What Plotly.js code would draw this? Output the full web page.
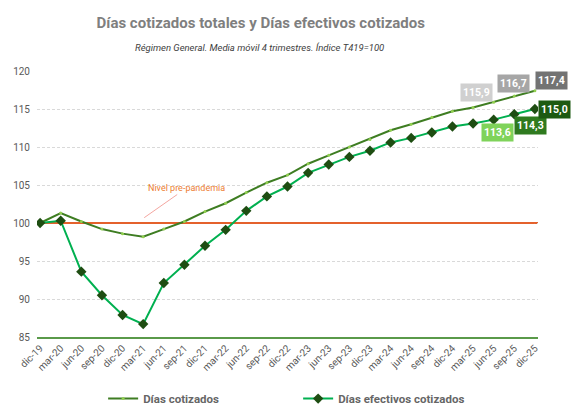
<!DOCTYPE html>
<html>
<head>
<meta charset="utf-8">
<script src="https://cdn.plot.ly/plotly-3.0.1.min.js"></script>
<style>html,body{margin:0;padding:0;background:#fff;}#chart{width:586px;height:412px;}</style>
</head>
<body>
<div id="chart"></div>
<script>
const periods = ["dic-19","mar-20","jun-20","sep-20","dic-20","mar-21","jun-21","sep-21","dic-21","mar-22","jun-22","sep-22","dic-22","mar-23","jun-23","sep-23","dic-23","mar-24","jun-24","sep-24","dic-24","mar-25","jun-25","sep-25","dic-25"];
const diasCotizados = [100.0,101.3,100.2,99.2,98.6,98.2,99.2,100.2,101.5,102.6,104.0,105.3,106.3,107.8,108.9,110.0,111.0,112.2,113.0,113.9,114.7,115.2,115.9,116.7,117.4];
const diasEfectivos = [100.0,100.3,93.6,90.5,87.9,86.7,92.1,94.5,97.0,99.1,101.6,103.5,104.8,106.6,107.7,108.7,109.5,110.6,111.2,111.9,112.7,113.1,113.6,114.3,115.0];
const preLevel = 100;
const yTicks = [85,90,95,100,105,110,115,120];

const fam = "Roboto, 'Liberation Sans', sans-serif";
const fmt = v => v.toFixed(1).replace('.', ',');
const n = periods.length;
const orange = "#e4612c";

const traces = [
  {
    x: periods, y: periods.map(() => preLevel), name: "Nivel pre-pandemia", type: "scatter", mode: "lines",
    line: {color: orange, width: 2}, showlegend: false, hoverinfo: "skip"
  },
  {
    x: periods, y: diasCotizados, name: "Días cotizados", type: "scatter", mode: "lines+markers",
    line: {color: "#3e7d22", width: 2},
    marker: {color: "#92d050", size: 3, symbol: "circle"}
  },
  {
    x: periods, y: diasEfectivos, name: "Días efectivos cotizados", type: "scatter", mode: "lines+markers",
    line: {color: "#00b050", width: 2},
    marker: {color: "#1e4d12", size: 8, symbol: "diamond"}
  }
];

function lbl(idx, arr, bg, xs, ys) {
  return {
    x: periods[idx], y: arr[idx], xref: "x", yref: "y",
    text: "<b>" + fmt(arr[idx]) + "</b>", showarrow: false,
    xshift: xs, yshift: ys,
    font: {family: fam, size: 10.5, color: "#ffffff"},
    bgcolor: bg, borderpad: 2
  };
}

const annotations = [
  lbl(n-3, diasCotizados, "#d0d0d0", -17, 10),
  lbl(n-2, diasCotizados, "#a6a6a6", -1, 13),
  lbl(n-1, diasCotizados, "#737373", 17, 10),
  lbl(n-3, diasEfectivos, "#7fd35a", 4, -13),
  lbl(n-2, diasEfectivos, "#2f7a1f", 16, -11),
  lbl(n-1, diasEfectivos, "#1d5a12", 20, 0),
  {
    x: 5.05, y: 100.7, xref: "x", yref: "y",
    text: "Nivel pre-pandemia", showarrow: true,
    ax: 7.1, ay: 104.6, axref: "x", ayref: "y",
    arrowhead: 0, arrowwidth: 1, arrowcolor: "#f4a6a0", standoff: 0,
    font: {family: fam, size: 9, color: "#ed7d31"}
  },
  {
    x: 0.445, y: 1.0, xref: "paper", yref: "paper", yanchor: "middle",
    yshift: 24, showarrow: false,
    text: "<i>Régimen General. Media móvil 4 trimestres. Índice T419=100</i>",
    font: {family: fam, size: 9.5, color: "#404040"}
  }
];

const layout = {
  width: 586, height: 412,
  margin: {l: 37, r: 48, t: 71, b: 75, autoexpand: false},
  paper_bgcolor: "#ffffff", plot_bgcolor: "#ffffff",
  title: {
    text: "<b>Días cotizados totales y Días efectivos cotizados</b>",
    x: 0.445, xanchor: "center", y: 0.945, yanchor: "middle",
    font: {family: fam, size: 15, color: "#7f7f7f"}
  },
  showlegend: true,
  legend: {
    orientation: "h", x: 0.132, xanchor: "left", y: -0.177, yanchor: "top",
    font: {family: fam, size: 11.5, color: "#666666", weight: "bold"},
    traceorder: "normal", itemwidth: 30, entrywidth: 150, entrywidthmode: "pixels"
  },
  xaxis: {
    type: "category", range: [-0.15, n - 1 + 0.15], automargin: false,
    tickangle: -45, ticks: "", showgrid: false,
    showline: true, linecolor: "#5a9a4a", linewidth: 1.5,
    tickfont: {family: fam, size: 10, color: "#595959"},
    fixedrange: true
  },
  yaxis: {
    range: [85, 120], tickvals: yTicks, ticks: "", automargin: false,
    showgrid: true, gridcolor: "#d9d9d9", griddash: "3px,2px", gridwidth: 1,
    zeroline: false, showline: false, ticklabelstandoff: 6,
    tickfont: {family: fam, size: 10, color: "#595959"},
    fixedrange: true
  },
  shapes: [
    {type: "line", xref: "paper", x0: 0, x1: 1, yref: "y", y0: preLevel, y1: preLevel,
     line: {color: orange, width: 2}, layer: "between"}
  ],
  annotations: annotations
};

Plotly.newPlot("chart", traces, layout, {displayModeBar: false, staticPlot: true});
</script>
</body>
</html>
